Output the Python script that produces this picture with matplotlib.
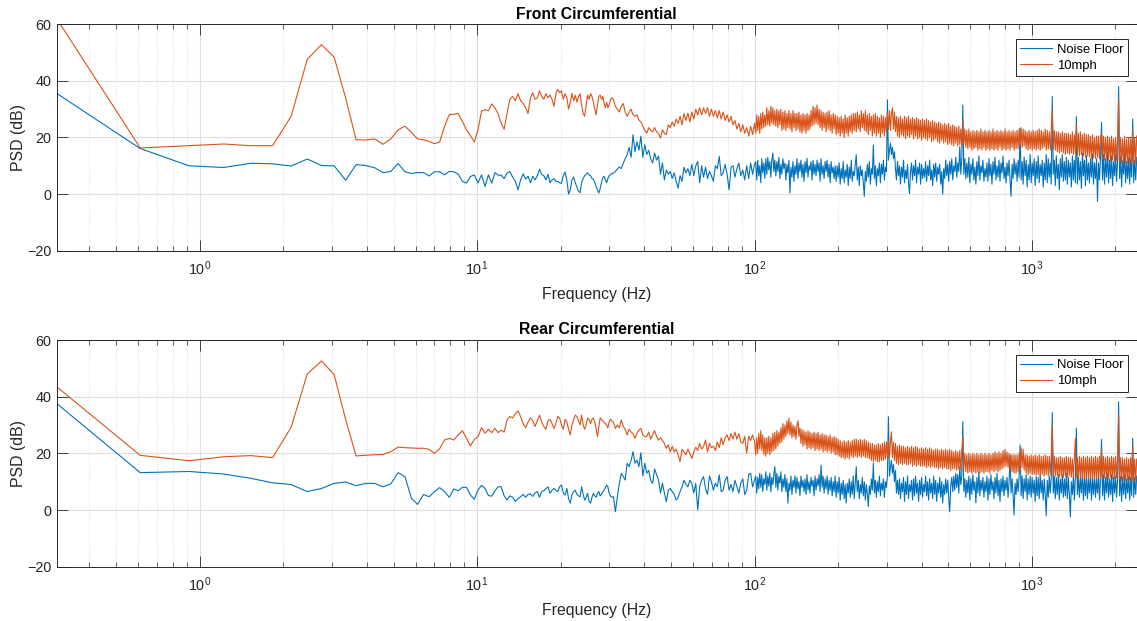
import numpy as np
import matplotlib
matplotlib.use("Agg")
import matplotlib.pyplot as plt
from matplotlib.ticker import LogLocator, NullFormatter, LogFormatterSciNotation

plt.rcParams.update({
    "font.family": ["Liberation Sans", "DejaVu Sans"],
    "mathtext.fontset": "custom",
    "mathtext.rm": "Liberation Sans",
    "mathtext.it": "Liberation Sans:italic",
    "mathtext.bf": "Liberation Sans:bold",
})

# ---------------------------------------------------------------------------
# Frequency axis: raw FFT bins up to ~30 Hz, then log-spaced points up to Nyquist
# ---------------------------------------------------------------------------
BIN_HZ = 0.3052
F_MAX = 2385.0
f_bins = BIN_HZ * np.arange(1, 101)          # 0.3 .. 30.5 Hz
f_mid = np.geomspace(31.0, 100.0, 73)         # 31 .. 100 Hz
f_high = np.geomspace(101.0, F_MAX, 380)      # 101 Hz .. Nyquist
freq = np.concatenate([f_bins, f_mid, f_high])

series_names = ["Noise Floor", "10mph"]
titles = ["Front Circumferential", "Rear Circumferential"]
y_ticks = [-20, 0, 20, 40, 60]

# ---------------------------------------------------------------------------
# PSD values (dB)
# ---------------------------------------------------------------------------
front_noise_bins = [
    35.6, 16.1, 10.0, 9.4, 10.9, 10.7, 9.9, 12.4, 10.1, 10.0,
    4.9, 10.4, 10.1, 9.3, 7.6, 8.0, 10.8, 7.9, 7.3, 7.6,
    7.6, 6.4, 7.9, 7.9, 6.8, 8.0, 7.9, 7.1, 4.5, 3.9,
    6.2, 6.8, 3.9, 6.8, 2.7, 6.8, 3.9, 7.6, 6.7, 6.7,
    5.5, 7.4, 8.0, 6.0, 4.5, 1.5, 5.0, 7.2, 5.3, 6.3,
    4.0, 6.3, 5.0, 6.5, 8.8, 7.0, 6.5, 5.0, 7.0, 4.0,
    5.0, 5.5, 4.5, 4.5, 4.0, 3.8, 6.5, 7.8, 5.0, 0.0,
    1.5, 5.0, 6.0, 4.0, 2.5, 1.0, 0.5, 4.0, 5.5, 6.5,
    7.0, 7.5, 6.8, 6.5, 5.5, 5.3, 4.0, 2.7, 1.5, 0.4,
    2.0, 4.0, 5.8, 6.3, 5.0, 4.0, 5.5, 6.5, 6.8, 7.2,
]
front_noise_mid = [
    7.4, 8.0, 8.8, 9.6, 9.0, 10.9, 12.5, 14.0, 16.5, 13.0,
    21.0, 15.0, 18.5, 15.5, 20.5, 13.0, 17.5, 14.0, 15.5, 12.5,
    11.0, 14.5, 12.0, 13.5, 7.0, 11.0, 5.0, 8.5, 7.0, 8.0,
    5.5, 7.5, 4.5, 2.1, 6.5, 4.5, 9.5, 7.5, 9.0, 6.5,
    10.5, 6.5, 10.0, 11.5, 4.0, 10.0, 6.0, 9.5, 5.5, 8.0,
    6.5, 4.5, 10.0, 9.0, 13.3, 6.5, 7.5, 10.5, 7.0, 1.5,
    9.5, 10.0, 6.0, 9.0, 11.0, 6.5, 8.5, 5.0, 10.0, 5.5,
    11.0, 7.0, 10.5,
]
front_noise_high = [
    11.5, 5.0, 12.0, 6.5, 10.0, 4.0, 12.5, 7.5, 11.0, 5.5,
    12.5, 7.0, 13.0, 8.5, 11.5, 6.0, 12.0, 14.5, 8.0, 12.0,
    6.5, 11.5, 8.0, 13.0, 5.5, 10.5, 7.0, 12.5, 9.0, 11.0,
    5.0, 10.5, 7.5, 12.0, 0.4, 9.5, 6.0, 11.5, 4.5, 10.0,
    7.0, 12.5, 5.5, 11.0, 8.0, 12.0, 6.0, 10.5, 4.5, 11.5,
    7.5, 12.7, 6.0, 10.0, 8.5, 11.5, 5.0, 12.0, 7.0, 10.5,
    6.5, 12.0, 8.0, 11.0, 4.5, 12.5, 7.0, 10.0, 5.5, 11.5,
    8.0, 12.0, 6.0, 10.5, 4.0, 11.5, 7.5, 9.5, 5.5, 10.0,
    4.5, 10.0, 6.0, 11.0, 3.5, 9.0, 5.5, 11.5, 4.0, 8.5,
    6.0, 10.5, 3.0, 9.5, 5.5, 12.0, 4.5, 8.0, 6.5, 10.5,
    13.9, 5.0, 9.5, 3.0, 10.0, 6.5, 8.5, 4.0, -0.8, 8.0,
    4.5, 10.5, 6.0, 11.5, 3.5, 9.0, 7.0, 17.4, 5.5, 10.0,
    3.0, 9.0, 6.5, 11.0, 4.0, 10.5, 7.0, 12.0, 5.0, 9.5,
    8.0, 33.3, 12.0, 15.5, 18.0, 14.0, 16.5, 12.5, 15.0, 9.0,
    5.0, 11.5, 6.5, 10.0, 3.5, 9.5, 6.0, 12.0, 4.0, 8.5,
    5.5, 10.5, 3.5, 0.2, 8.0, 11.0, 5.0, 10.0, 6.5, 12.0,
    4.0, 9.5, 7.0, 11.0, 3.5, 10.5, 5.5, 9.0, 6.0, 11.5,
    4.5, 10.0, 6.5, 12.0, 5.0, 8.5, 3.0, 10.5, 6.0, 11.0,
    4.5, 9.5, 7.0, 10.5, 3.5, 8.0, 0.0, 9.0, 5.5, 12.0,
    6.5, 10.5, 4.5, 11.5, 7.0, 12.5, 5.0, 10.0, 8.0, 13.0,
    6.0, 11.0, 8.0, 16.8, 7.0, 12.5, 31.5, 7.0, 12.5, 5.5,
    11.0, 6.0, 13.0, 4.0, 10.5, 7.0, 12.5, 5.0, 9.5, 3.5,
    11.5, 6.5, 13.5, 5.0, 10.0, 7.5, 12.0, 4.5, 9.0, 6.0,
    11.0, 4.5, 12.5, 6.5, 10.5, 3.5, 11.5, 7.0, 13.0, 5.0,
    10.0, 6.0, 12.0, 4.5, 11.0, 7.5, 13.5, 5.5, 9.5, 4.0,
    11.0, 6.5, 12.0, 5.0, -0.8, 10.5, 5.5, 12.5, 7.0, 11.0,
    4.5, 12.0, 6.0, 23.3, 5.0, 11.5, 3.5, 13.0, 6.5, 12.0,
    2.5, 10.5, 5.0, 14.0, 4.0, 11.0, 6.5, 12.5, 3.0, 11.5,
    5.5, 13.5, 4.0, 10.5, 6.5, 12.0, 2.5, 11.0, 5.0, 14.0,
    4.0, 12.5, 6.0, 11.0, 3.5, 34.5, 7.0, 12.0, 3.0, 13.5,
    5.5, 10.5, 1.5, 12.5, 6.0, 14.0, 4.5, 11.5, 5.0, 13.0,
    3.5, 12.0, 6.0, 11.0, 2.5, 13.5, 5.0, 12.0, 4.0, 27.4,
    3.5, 13.0, 5.0, 11.5, 2.0, 14.5, 6.5, 12.0, 3.0, 13.5,
    5.0, 11.0, 4.0, 12.5, 6.0, 14.0, 3.5, 11.0, 5.5, 12.5,
    -2.6, 11.0, 5.0, 13.0, 25.3, 5.0, 14.0, 3.5, 12.5, 6.0,
    15.0, 4.0, 12.0, 5.5, 13.5, 3.0, 11.5, 6.5, 14.0, 4.5,
    12.0, 38.0, 5.5, 13.5, 2.5, 12.0, 7.0, 14.5, 4.0, 11.5,
    5.5, 13.0, 3.5, 12.5, 6.0, 26.5, 4.0, 12.0, 5.0, 13.0,
]

front_10mph_bins = [
    62.0, 16.3, 17.1, 17.7, 17.1, 17.1, 27.5, 47.6, 52.8, 48.4,
    34.0, 19.2, 19.1, 19.5, 17.6, 19.5, 22.7, 24.0, 21.8, 19.5,
    19.2, 18.6, 17.8, 18.4, 23.9, 28.1, 28.2, 28.5, 25.6, 22.7,
    20.7, 18.4, 22.7, 29.4, 29.8, 29.5, 31.9, 30.4, 28.4, 25.1,
    22.9, 28.5, 33.5, 34.5, 33.0, 35.5, 33.0, 32.0, 30.5, 28.5,
    34.0, 35.8, 33.5, 34.0, 36.5, 34.5, 33.5, 35.5, 34.0, 35.0,
    33.5, 31.0, 35.5, 37.0, 35.8, 36.5, 33.5, 35.5, 34.0, 30.0,
    32.5, 35.5, 33.0, 35.0, 32.5, 34.5, 35.5, 31.5, 28.5, 27.5,
    31.5, 35.0, 33.5, 35.5, 34.5, 32.5, 30.0, 28.0, 31.5, 34.5,
    35.0, 33.5, 34.5, 32.0, 30.5, 32.5, 30.5, 31.5, 33.0, 34.0,
]
front_10mph_mid = [
    33.5, 31.0, 30.0, 29.0, 31.0, 32.0, 29.0, 27.5, 29.0, 30.0,
    28.0, 27.5, 28.0, 26.2, 25.5, 24.0, 22.5, 21.5, 23.5, 22.5,
    22.0, 23.5, 22.0, 21.5, 19.8, 22.7, 21.5, 21.0, 24.5, 23.5,
    25.5, 24.0, 26.5, 25.0, 27.5, 24.5, 28.5, 26.0, 28.6, 25.5,
    29.0, 26.5, 30.0, 28.0, 30.5, 28.0, 30.5, 28.5, 30.5, 27.5,
    30.0, 27.5, 29.5, 27.0, 29.5, 26.5, 29.0, 26.0, 28.0, 25.5,
    27.5, 24.5, 26.0, 23.0, 25.0, 22.0, 24.5, 21.5, 23.5, 20.5,
    24.0, 21.0, 25.0,
]
front_10mph_high = [
    21.5, 28.0, 22.5, 27.5, 21.5, 28.5, 23.0, 29.0, 23.5, 28.0,
    24.0, 30.5, 24.5, 29.5, 24.0, 31.0, 25.0, 30.5, 24.5, 29.5,
    24.0, 30.0, 23.5, 29.5, 24.5, 30.0, 22.5, 29.0, 23.0, 29.5,
    22.5, 28.5, 23.5, 29.5, 23.0, 28.5, 22.0, 29.5, 23.5, 28.5,
    22.5, 28.5, 23.0, 29.0, 22.0, 28.0, 21.5, 28.5, 22.5, 28.0,
    21.5, 28.5, 22.5, 28.0, 23.0, 29.5, 24.0, 31.0, 24.5, 30.5,
    25.0, 31.5, 24.5, 30.0, 23.5, 29.5, 22.5, 29.0, 23.5, 28.5,
    22.0, 29.0, 23.0, 29.5, 22.5, 28.0, 21.5, 28.5, 23.0, 28.0,
    21.0, 27.5, 21.5, 27.0, 20.5, 27.5, 21.5, 26.5, 20.0, 28.0,
    21.5, 27.0, 20.5, 27.5, 22.0, 28.0, 21.5, 28.5, 22.5, 28.5,
    22.0, 29.0, 23.0, 28.0, 22.0, 29.5, 23.5, 28.5, 22.5, 29.5,
    22.0, 28.0, 21.0, 28.5, 22.5, 27.5, 20.5, 28.0, 21.5, 28.5,
    20.5, 27.5, 21.5, 27.0, 20.0, 28.0, 21.5, 27.5, 20.5, 27.0,
    22.0, 29.0, 23.0, 29.5, 22.5, 28.5, 30.5, 23.0, 29.0, 22.0,
    27.5, 20.5, 27.0, 20.0, 27.5, 21.0, 26.5, 20.5, 27.5, 19.5,
    27.0, 20.5, 27.5, 20.0, 26.5, 21.0, 27.0, 19.5, 26.5, 20.5,
    27.0, 19.5, 26.5, 20.0, 26.0, 19.0, 26.5, 20.0, 26.0, 19.5,
    26.5, 19.0, 26.0, 20.0, 25.5, 18.5, 26.0, 19.0, 25.5, 19.5,
    25.0, 18.5, 25.5, 18.0, 25.0, 19.0, 24.5, 18.0, 25.0, 18.5,
    24.5, 17.5, 25.0, 18.0, 24.0, 17.5, 24.5, 17.0, 24.0, 18.0,
    23.5, 17.0, 24.0, 17.5, 23.0, 17.0, 26.2, 17.5, 23.0, 16.5,
    22.5, 16.0, 23.0, 16.5, 22.0, 15.5, 22.5, 16.0, 22.0, 16.5,
    22.5, 15.5, 22.0, 16.0, 23.0, 15.5, 22.0, 16.5, 22.5, 15.5,
    22.0, 16.0, 22.5, 15.5, 22.0, 16.0, 23.0, 15.5, 22.0, 16.0,
    22.5, 15.5, 22.0, 16.5, 22.5, 15.5, 22.0, 16.0, 23.0, 15.5,
    22.0, 16.0, 22.5, 15.5, 22.0, 16.5, 22.5, 15.5, 22.0, 16.0,
    22.5, 16.0, 23.0, 17.0, 23.5, 16.5, 23.0, 17.0, 22.5, 16.0,
    22.0, 15.5, 22.5, 16.0, 22.0, 15.5, 22.5, 16.0, 22.0, 15.5,
    22.5, 16.0, 23.0, 15.5, 22.5, 16.0, 22.0, 16.5, 23.0, 15.5,
    22.5, 16.0, 22.0, 15.5, 22.5, 29.8, 16.0, 22.5, 15.5, 22.0,
    15.0, 22.0, 14.5, 21.5, 15.0, 22.0, 14.5, 21.5, 14.0, 21.5,
    14.5, 21.5, 14.0, 21.0, 14.5, 22.0, 14.0, 21.0, 14.5, 24.5,
    14.0, 21.5, 13.5, 22.0, 14.0, 21.0, 13.5, 21.5, 13.0, 21.0,
    13.5, 21.0, 13.0, 20.5, 12.5, 21.0, 13.0, 20.0, 12.5, 20.5,
    13.0, 20.5, 12.5, 20.0, 21.5, 12.5, 20.5, 12.0, 20.0, 12.5,
    20.5, 12.0, 20.0, 11.5, 20.5, 12.0, 19.5, 11.5, 20.0, 12.0,
    19.5, 33.3, 11.5, 20.0, 11.0, 19.5, 11.5, 20.5, 11.0, 19.5,
    11.0, 20.0, 10.5, 19.5, 11.0, 22.7, 10.5, 20.0, 11.0, 20.5,
]

rear_noise_bins = [
    37.6, 13.2, 13.6, 12.7, 11.2, 9.6, 9.0, 6.5, 7.6, 9.4,
    9.9, 8.6, 9.4, 9.4, 8.2, 9.2, 13.2, 11.8, 4.1, 2.0,
    5.5, 4.7, 6.5, 7.9, 6.5, 4.5, 7.4, 6.8, 8.0, 8.0,
    5.3, 3.8, 7.1, 8.7, 7.6, 5.1, 4.9, 6.8, 8.2, 8.2,
    5.0, 3.5, 5.0, 4.5, 3.0, 4.0, 4.7, 5.5, 4.5, 5.5,
    5.7, 4.8, 6.0, 6.5, 4.5, 6.5, 6.8, 7.5, 8.2, 5.9,
    7.0, 7.6, 7.0, 6.5, 8.2, 8.8, 6.0, 5.3, 7.6, 4.0,
    2.4, 5.5, 6.5, 7.0, 5.5, 5.0, 4.7, 8.2, 5.5, 3.5,
    4.5, 5.9, 3.0, 2.4, 4.5, 5.9, 5.0, 4.5, 5.9, 6.5,
    5.0, 5.5, 6.5, 7.0, 8.0, 8.8, 8.2, 6.0, 5.0, 4.5,
]
rear_noise_mid = [
    4.7, -0.6, 4.7, 9.4, 12.9, 11.8, 10.6, 16.5, 15.3, 17.5,
    20.6, 16.5, 17.6, 15.3, 20.2, 12.0, 16.5, 13.0, 14.0, 10.5,
    9.4, 14.5, 12.5, 10.6, 6.0, 9.4, 6.0, 2.9, 7.0, 7.6,
    6.5, 5.5, 3.5, 4.5, 6.5, 8.2, 10.5, 9.0, 8.2, 10.5,
    9.4, 6.0, 9.4, 0.0, 8.2, 10.5, 11.8, 7.5, 5.5, 12.0,
    10.0, 7.0, 9.5, 8.2, 12.4, 6.5, 7.0, 10.5, 11.8, 7.0,
    9.0, 6.5, 10.5, 8.2, 6.0, 9.5, 11.0, 5.5, 7.0, 12.5,
    13.0, 8.2, 10.6,
]
rear_noise_high = [
    12.0, 6.0, 11.5, 7.5, 13.0, 8.0, 12.5, 6.5, 11.0, 9.0,
    13.5, 7.0, 12.0, 8.5, 13.0, 6.5, 11.5, 9.0, 12.5, 15.3,
    8.0, 13.0, 7.0, 12.0, 9.5, 13.5, 6.5, 11.0, 8.0, 12.5,
    6.5, 11.0, 2.4, 9.5, 7.0, 12.0, 5.5, 10.5, 8.0, 12.0,
    6.0, 11.5, 7.5, 10.0, 5.0, 12.0, 8.0, 10.5, 6.5, 11.0,
    5.5, 12.5, 7.0, 10.0, 6.0, 11.5, 8.5, 10.5, 5.0, 12.0,
    7.0, 11.0, 8.5, 12.5, 6.5, 15.9, 8.0, 12.0, 6.0, 11.0,
    7.5, 12.0, 5.5, 10.5, 7.0, 11.5, 5.0, 10.0, 6.5, 12.0,
    4.5, 10.0, 6.0, 11.5, 3.5, 9.5, 5.5, 10.5, 4.0, 9.0,
    2.4, 9.5, 6.0, 11.0, 4.5, 10.0, 5.5, 12.0, 4.0, 9.5,
    15.3, 6.5, 10.5, 4.0, 9.0, 6.0, 11.5, 5.0, 10.0, 3.5,
    9.0, 6.0, 1.2, 8.5, 5.5, 11.0, 7.0, 16.5, 6.0, 10.5,
    4.5, 10.0, 6.5, 12.0, 5.0, 9.5, 7.0, 11.0, 4.5, 10.0,
    8.0, 12.0, 32.9, 12.0, 15.0, 17.6, 13.0, 16.0, 10.0, 14.0,
    6.0, 10.5, 5.5, 11.0, 4.0, 9.5, 6.5, 11.5, 3.0, 10.0,
    5.5, 12.0, 4.0, 9.0, 6.5, 10.5, 3.5, 11.0, 5.0, 12.0,
    6.0, 9.5, 3.0, 10.5, 5.5, 11.5, 4.5, 9.0, 6.5, 12.0,
    5.0, 10.0, 3.5, 11.0, 6.0, 9.5, 4.0, 12.0, 5.5, 10.5,
    3.0, 9.5, 6.0, 11.5, 4.5, 10.0, 2.5, 9.0, 5.5, 11.0,
    6.0, 10.5, 4.0, -0.6, 8.5, 11.5, 6.5, 12.0, 7.0, 13.0,
    8.0, 12.5, 6.0, 15.3, 9.0, 12.0, 31.2, 6.5, 11.0, 4.5,
    10.5, 6.0, 12.0, 3.5, 11.0, 5.5, 12.5, 7.0, 10.0, 2.5,
    11.5, 6.0, 13.5, 5.0, 10.5, 7.0, 11.5, 4.5, 10.0, 6.5,
    12.0, 3.5, 11.0, 5.5, 12.5, 7.0, 10.0, 4.0, 11.5, 6.0,
    13.0, 5.0, 10.5, 3.0, 11.0, 6.5, 12.0, 5.0, 10.5, 7.0,
    11.5, 4.5, 10.0, 19.4, 6.0, 11.0, 5.5, -1.8, 9.5, 5.5,
    11.0, 6.5, 12.0, 22.9, 5.0, 12.0, 4.0, 11.0, 6.5, 12.5,
    3.5, 11.0, 5.5, 12.0, 4.5, 11.5, 6.0, 10.5, 3.0, 12.0,
    5.0, 11.5, 4.0, 12.5, 6.0, 10.5, 3.5, 11.0, 5.5, -2.0,
    10.5, 4.5, 12.0, 6.0, 11.5, 34.4, 6.0, 12.0, 4.0, 11.5,
    5.5, 12.5, 3.5, 11.0, 6.0, 12.5, 4.5, 11.0, 5.0, 13.0,
    4.0, 11.5, 5.5, -2.4, 10.0, 5.5, 12.0, 3.5, 11.5, 28.8,
    5.5, 12.0, 4.5, 11.5, 6.0, 13.0, 3.5, 11.5, 5.0, 12.5,
    4.0, 11.0, 6.0, 12.5, 3.5, 11.5, 5.5, 12.0, 4.5, 11.0,
    6.0, 12.5, 3.5, 11.0, 24.9, 5.0, 12.5, 3.5, 11.5, 6.0,
    13.0, 4.5, 11.0, 5.5, 12.5, 3.0, 11.5, 6.0, 12.0, 4.5,
    11.0, 38.2, 5.0, 12.0, 3.0, 11.5, 5.5, 12.5, 4.0, 11.0,
    6.0, 12.0, 3.5, 11.5, 5.0, 25.3, 4.5, 11.5, 5.5, 12.0,
]

rear_10mph_bins = [
    43.5, 19.3, 17.4, 18.8, 19.2, 18.5, 29.2, 48.0, 52.6, 47.8,
    32.0, 19.1, 19.3, 19.5, 19.6, 20.6, 22.2, 22.0, 21.9, 21.8,
    21.8, 21.4, 20.0, 21.6, 24.7, 25.3, 24.7, 26.5, 28.0, 25.3,
    22.6, 24.9, 25.9, 29.1, 27.1, 28.5, 27.3, 28.8, 27.3, 28.2,
    27.5, 31.8, 33.0, 32.5, 34.0, 35.0, 33.0, 30.5, 29.0, 31.0,
    32.5, 31.5, 29.5, 31.5, 33.5, 31.0, 29.5, 28.5, 31.5, 32.0,
    30.5, 28.8, 30.5, 33.0, 32.5, 30.0, 28.5, 32.0, 31.0, 28.5,
    26.5, 30.0, 32.0, 33.5, 33.0, 31.5, 30.0, 33.5, 30.0, 28.5,
    30.0, 32.5, 32.0, 30.5, 32.0, 32.5, 31.0, 28.5, 25.9, 29.5,
    32.5, 32.0, 31.5, 31.0, 30.5, 30.0, 29.0, 31.0, 32.0, 31.5,
]
rear_10mph_mid = [
    31.0, 28.8, 30.0, 29.0, 31.8, 29.5, 28.5, 26.5, 28.5, 27.5,
    27.0, 25.3, 27.0, 28.2, 28.8, 26.5, 25.9, 26.0, 27.5, 25.0,
    26.5, 28.0, 26.0, 24.7, 25.5, 24.5, 23.5, 21.8, 23.0, 20.5,
    22.5, 20.5, 21.5, 19.4, 17.1, 21.5, 20.5, 19.5, 21.5, 20.0,
    18.2, 20.5, 22.2, 21.0, 23.5, 21.5, 22.5, 24.7, 20.5, 23.5,
    22.0, 22.5, 21.0, 24.0, 22.0, 25.5, 23.0, 25.5, 26.5, 24.5,
    27.0, 25.0, 27.5, 25.0, 27.0, 24.0, 23.5, 26.0, 20.0, 26.0,
    24.5, 26.5, 24.0,
]
rear_10mph_high = [
    19.5, 25.5, 20.0, 27.0, 21.5, 28.0, 21.0, 26.5, 19.5, 25.5,
    19.0, 25.5, 20.0, 26.0, 19.5, 25.5, 20.5, 27.0, 21.0, 27.5,
    21.5, 28.0, 22.5, 27.5, 23.5, 29.0, 24.0, 30.5, 25.0, 30.0,
    26.0, 31.5, 27.0, 32.5, 26.5, 31.0, 25.5, 30.0, 26.0, 29.5,
    25.0, 30.0, 31.5, 26.0, 29.0, 23.5, 28.5, 22.5, 28.0, 23.0,
    27.5, 21.5, 28.0, 22.0, 27.5, 21.5, 27.0, 22.0, 27.5, 21.0,
    27.0, 21.5, 27.5, 21.0, 26.5, 21.5, 27.0, 20.5, 26.5, 21.0,
    26.5, 20.5, 26.0, 21.0, 26.5, 20.0, 25.5, 20.5, 26.0, 19.5,
    25.5, 19.5, 25.0, 19.0, 24.5, 18.5, 24.0, 18.5, 24.5, 18.0,
    24.0, 18.5, 24.5, 18.0, 24.0, 19.0, 24.5, 18.5, 25.0, 19.0,
    25.0, 18.5, 24.5, 19.0, 25.0, 18.5, 24.5, 19.0, 25.0, 18.5,
    24.5, 18.5, 24.0, 18.0, 23.5, 17.5, 23.5, 17.0, 23.0, 17.5,
    23.0, 17.0, 23.5, 17.0, 23.0, 17.5, 23.5, 17.5, 24.0, 18.0,
    24.0, 18.0, 24.5, 18.5, 24.0, 27.6, 18.5, 24.0, 17.5, 23.5,
    16.5, 22.5, 16.0, 23.0, 16.5, 22.5, 16.0, 22.5, 16.5, 22.0,
    16.0, 22.5, 16.0, 22.0, 16.5, 22.5, 15.5, 22.0, 16.0, 22.5,
    15.5, 22.0, 16.0, 21.5, 15.5, 22.0, 15.5, 21.5, 15.5, 22.0,
    15.0, 21.5, 15.5, 22.0, 15.0, 21.5, 15.5, 21.0, 15.0, 21.5,
    15.0, 21.5, 14.5, 21.0, 15.0, 21.5, 14.5, 21.0, 15.0, 21.5,
    14.5, 21.0, 14.5, 21.5, 14.0, 21.0, 14.5, 20.5, 14.5, 21.0,
    14.0, 20.5, 14.5, 21.0, 14.0, 20.5, 25.9, 14.5, 20.0, 13.5,
    19.5, 13.0, 20.0, 13.5, 19.5, 13.0, 20.0, 13.5, 19.5, 13.0,
    20.0, 13.5, 19.5, 13.0, 20.0, 13.5, 19.5, 13.0, 20.0, 13.5,
    19.5, 13.5, 20.0, 13.0, 19.5, 14.0, 20.0, 13.5, 20.5, 14.0,
    20.0, 13.5, 20.5, 14.0, 20.0, 14.5, 21.0, 15.0, 21.5, 15.5,
    20.5, 15.0, 20.0, 14.0, 19.5, 13.5, 19.5, 13.0, 19.5, 13.0,
    19.5, 13.5, 20.0, 14.0, 22.0, 15.0, 21.5, 14.0, 19.5, 13.0,
    19.5, 12.5, 19.0, 13.0, 19.5, 12.5, 19.0, 12.5, 19.5, 12.5,
    19.0, 12.5, 19.5, 12.0, 19.0, 12.5, 19.0, 12.0, 19.5, 12.5,
    19.0, 12.0, 19.0, 12.5, 19.0, 30.0, 12.0, 19.0, 12.0, 18.5,
    12.0, 18.5, 11.5, 19.0, 12.0, 18.5, 11.5, 18.5, 12.0, 19.0,
    11.5, 18.5, 12.0, 18.5, 11.5, 18.0, 11.5, 18.5, 25.3, 11.5,
    18.5, 11.0, 19.0, 11.5, 18.5, 11.0, 19.0, 11.0, 18.5, 11.5,
    19.0, 11.0, 18.5, 11.5, 19.0, 11.0, 18.5, 11.0, 19.0, 11.0,
    18.5, 11.5, 19.0, 11.0, 21.5, 11.0, 19.0, 11.5, 18.5, 11.0,
    19.0, 11.0, 18.5, 11.5, 19.0, 11.0, 18.5, 11.0, 19.0, 11.5,
    18.5, 33.5, 11.0, 18.5, 10.5, 18.5, 11.0, 18.0, 10.5, 18.5,
    10.5, 18.0, 10.5, 18.5, 10.5, 22.4, 10.0, 18.0, 10.5, 18.0,
]

front_noise = np.concatenate([front_noise_bins, front_noise_mid, front_noise_high])
front_10mph = np.concatenate([front_10mph_bins, front_10mph_mid, front_10mph_high])
rear_noise = np.concatenate([rear_noise_bins, rear_noise_mid, rear_noise_high])
rear_10mph = np.concatenate([rear_10mph_bins, rear_10mph_mid, rear_10mph_high])

# ---------------------------------------------------------------------------
# Styling
# ---------------------------------------------------------------------------
BLUE = "#0072BD"
ORANGE = "#D95319"
AX_COLOR = "#262626"
GRID_MAJOR = "#dedede"
GRID_MINOR = "#cfcfcf"

fig = plt.figure(figsize=(11.37, 6.21), dpi=100)
W, H = 1137.0, 621.0
ax_left, ax_right = 56.7, 1136.7
panel_rows = [(24.3, 250.7), (340.0, 566.7)]

panels = [
    (titles[0], front_noise, front_10mph),
    (titles[1], rear_noise, rear_10mph),
]

for (top, bottom), (title, noise, drive) in zip(panel_rows, panels):
    ax = fig.add_axes([ax_left / W, 1 - bottom / H,
                       (ax_right - ax_left) / W, (bottom - top) / H])
    n = min(len(freq), len(noise), len(drive))
    ax.plot(freq[:n], noise[:n], color=BLUE, lw=0.8, label=series_names[0])
    ax.plot(freq[:n], drive[:n], color=ORANGE, lw=0.8, label=series_names[1])
    ax.set_xscale("log")
    ax.set_xlim(BIN_HZ, F_MAX)
    ax.set_ylim(-20, 60)
    ax.set_yticks(y_ticks)

    ax.xaxis.set_major_locator(LogLocator(base=10))
    ax.xaxis.set_major_formatter(LogFormatterSciNotation(base=10))
    ax.xaxis.set_minor_locator(LogLocator(base=10, subs=np.arange(2, 10)))
    ax.xaxis.set_minor_formatter(NullFormatter())

    ax.grid(True, which="major", color=GRID_MAJOR, lw=0.8, zorder=0)
    ax.grid(True, which="minor", axis="x", color=GRID_MINOR, lw=0.6,
            linestyle=(0, (1, 2)), zorder=0)
    ax.set_axisbelow(True)

    ax.tick_params(which="both", direction="in", top=True, right=True,
                   colors=AX_COLOR, labelcolor=AX_COLOR, labelsize=10.4)
    ax.tick_params(which="major", length=7.7, width=0.6)
    ax.tick_params(which="minor", length=3.4, width=0.5)
    ax.tick_params(axis="x", which="major", pad=6)
    ax.tick_params(axis="y", which="major", pad=4)
    for sp in ax.spines.values():
        sp.set_color(AX_COLOR)
        sp.set_linewidth(0.7)

    ax.set_xlabel("Frequency (Hz)", fontsize=11.4, color=AX_COLOR, labelpad=6.5)
    ax.set_ylabel("PSD (dB)", fontsize=11.4, color=AX_COLOR, labelpad=0.5)
    ax.set_title(title, fontsize=11.3, fontweight="bold", color="black", pad=4)

    leg = ax.legend(loc="upper right", bbox_to_anchor=(1 - 9 / 1080, 1 - 14.7 / 226.4),
                    borderaxespad=0, fontsize=9.4, fancybox=False, framealpha=1,
                    edgecolor=AX_COLOR, handlelength=2.45, handletextpad=0.35,
                    labelspacing=0.3, borderpad=0.35)
    leg.get_frame().set_linewidth(0.7)

fig.savefig("out.png", dpi=100)
